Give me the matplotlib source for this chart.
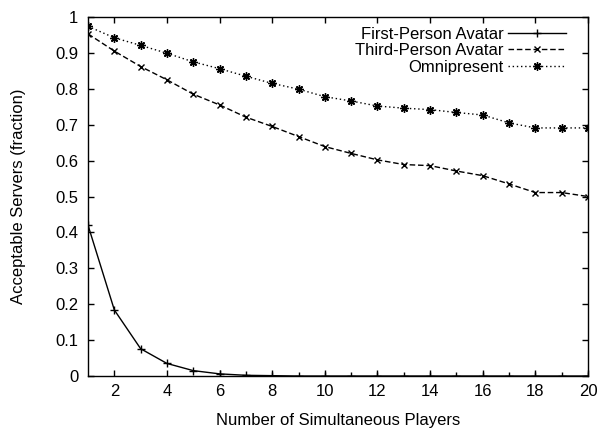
import numpy as np
import matplotlib
matplotlib.use("Agg")
import matplotlib.pyplot as plt

plt.rcParams['font.family'] = ['Liberation Sans', 'DejaVu Sans']

# number of players
players = list(range(1, 21))
# fraction of acceptable servers per view model
first_person = [0.42, 0.184, 0.076, 0.035, 0.015, 0.006, 0.002, 0.001,
                0.0, 0.0, 0.0, 0.0, 0.0, 0.0, 0.0, 0.0, 0.0, 0.0, 0.0, 0.0]
third_person = [0.953, 0.905, 0.862, 0.825, 0.785, 0.755, 0.721, 0.695,
                0.667, 0.639, 0.620, 0.602, 0.589, 0.586, 0.571, 0.558,
                0.535, 0.511, 0.511, 0.500]
omnipresent = [0.974, 0.942, 0.921, 0.899, 0.875, 0.856, 0.835, 0.815,
               0.799, 0.778, 0.766, 0.752, 0.746, 0.742, 0.734, 0.727,
               0.705, 0.691, 0.691, 0.691]

xticks = list(range(2, 21, 2))
yticks = [0, 0.1, 0.2, 0.3, 0.4, 0.5, 0.6, 0.7, 0.8, 0.9, 1]
ytick_labels = ['0', '0.1', '0.2', '0.3', '0.4', '0.5', '0.6', '0.7', '0.8', '0.9', '1']

fig = plt.figure(figsize=(6.0, 4.29), dpi=100)
ax = fig.add_axes([0.1467, 0.1235, 0.8333, 0.8369])

ax.plot(players, first_person, color='black', lw=1.0, ls='-',
        marker='+', ms=6, mew=1.0, label='First-Person Avatar')
ax.plot(players, third_person, color='black', lw=1.0, ls=(0, (4, 2)),
        marker='x', ms=5, mew=1.0, label='Third-Person Avatar')
ax.plot(players, omnipresent, color='black', lw=1.0, ls=(0, (1, 2)),
        marker=(8, 2, 0), ms=6, mew=1.0, label='Omnipresent')

ax.set_xlim(1, 20)
ax.set_ylim(0, 1)
ax.set_xticks(xticks)
ax.set_yticks(yticks)
ax.set_yticklabels(ytick_labels)
ax.tick_params(direction='in', length=4, width=1, top=True, right=True,
               labelsize=12)
ax.tick_params(axis='x', pad=6)
ax.tick_params(axis='y', pad=7)
for s in ax.spines.values():
    s.set_linewidth(1.0)

ax.set_xlabel('Number of Simultaneous Players', fontsize=12, labelpad=10)
ax.set_ylabel('Acceptable Servers (fraction)', fontsize=12, labelpad=21)

ax.legend(loc='upper right', bbox_to_anchor=(0.976, 1.0), frameon=False,
          markerfirst=False, handlelength=3.5, handletextpad=0.25,
          labelspacing=0.08, fontsize=12, borderaxespad=0.2, borderpad=0.4)

fig.savefig('out.png', dpi=100)
